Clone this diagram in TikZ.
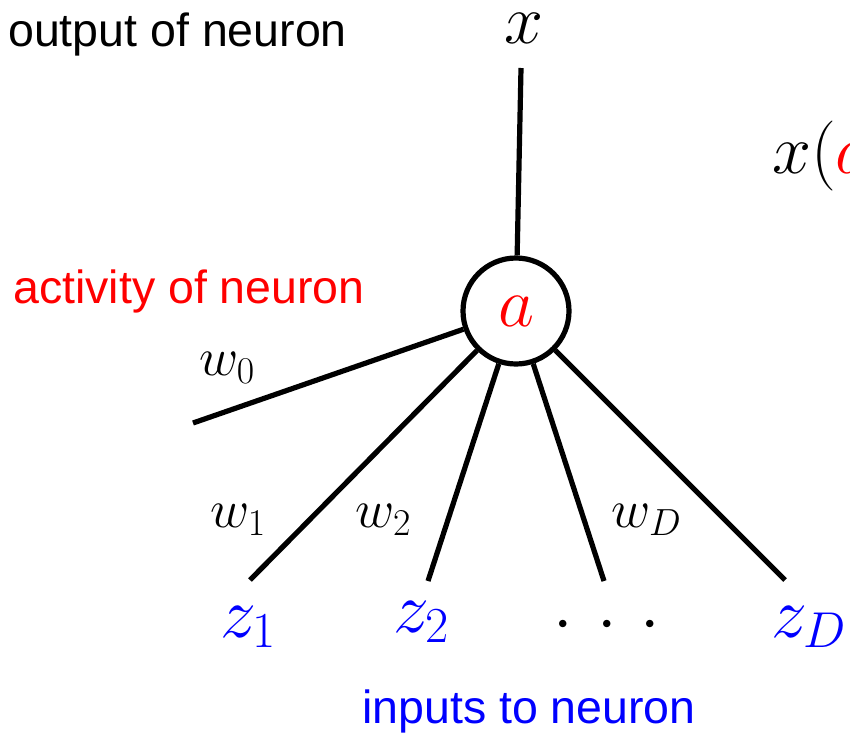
\RequirePackage{fix-cm}
\documentclass[tikz,border=0pt]{standalone}
\usepackage{fontspec}
\newfontfamily\arialfont{Liberation Sans}
\definecolor{pred}{RGB}{255,0,0}
\definecolor{pblue}{RGB}{0,0,255}
\tikzset{
  lbl/.style={font=\arialfont\fontsize{46.5}{52}\selectfont, inner sep=0pt, anchor=base west},
  bigmath/.style={font=\fontsize{70}{80}\selectfont, inner sep=0pt},
  wmath/.style={font=\fontsize{54}{60}\selectfont, inner sep=0pt, anchor=base west},
  zmath/.style={font=\fontsize{72}{80}\selectfont, inner sep=0pt, anchor=base west, text=pblue},
  wire/.style={line width=5.2pt, line cap=butt},
  neuron/.style={circle, draw, line width=5.2pt, minimum size=106pt, inner sep=0pt}
}
\begin{document}
\begin{tikzpicture}[x=1pt,y=-1pt]
\useasboundingbox (0,0) rectangle (850,736);
\clip (0,0) rectangle (850,736);
% labels
\node[lbl] (outlbl) at (8,46) {output of neuron};
\node[lbl, text=pred] (actlbl) at (13,303) {activity of neuron};
\node[lbl, text=pblue] (inlbl) at (362,723) {inputs to neuron};
% neuron
\node[neuron, bigmath] (a) at (516,311) {$\textcolor{pred}{a}$};
\node[bigmath] (x) at (524,28) {$x$};
\node[bigmath, anchor=base west] (xa) at (772,173) {$x(\textcolor{pred}{a}$};
% line ends
\coordinate (top) at (521,68);
\coordinate (e0) at (193,423);
\coordinate (e1) at (250,580);
\coordinate (e2) at (428,581);
\coordinate (e3) at (604,581);
\coordinate (e4) at (785,580);
\draw[wire] (top) -- (a);
\draw[wire] (e0) -- (a);
\draw[wire] (e1) -- (a);
\draw[wire] (e2) -- (a);
\draw[wire] (e3) -- (a);
\draw[wire] (e4) -- (a);
% weights
\node[wmath] (w0) at (199,375) {$w_0$};
\node[wmath] (w1) at (210,527) {$w_1$};
\node[wmath] (w2) at (355,527) {$w_2$};
\node[wmath] (wD) at (611,527) {$w_D$};
% inputs
\node[zmath] (z1) at (220,637) {$z_1$};
\node[zmath] (z2) at (393,632) {$z_2$};
\node[bigmath, anchor=base] (dots) at (607,641) {$\cdotp\hspace{0.18em}\cdotp\hspace{0.18em}\cdotp$};
\node[zmath] (zD) at (771,637) {$z_D$};
\end{tikzpicture}
\end{document}
